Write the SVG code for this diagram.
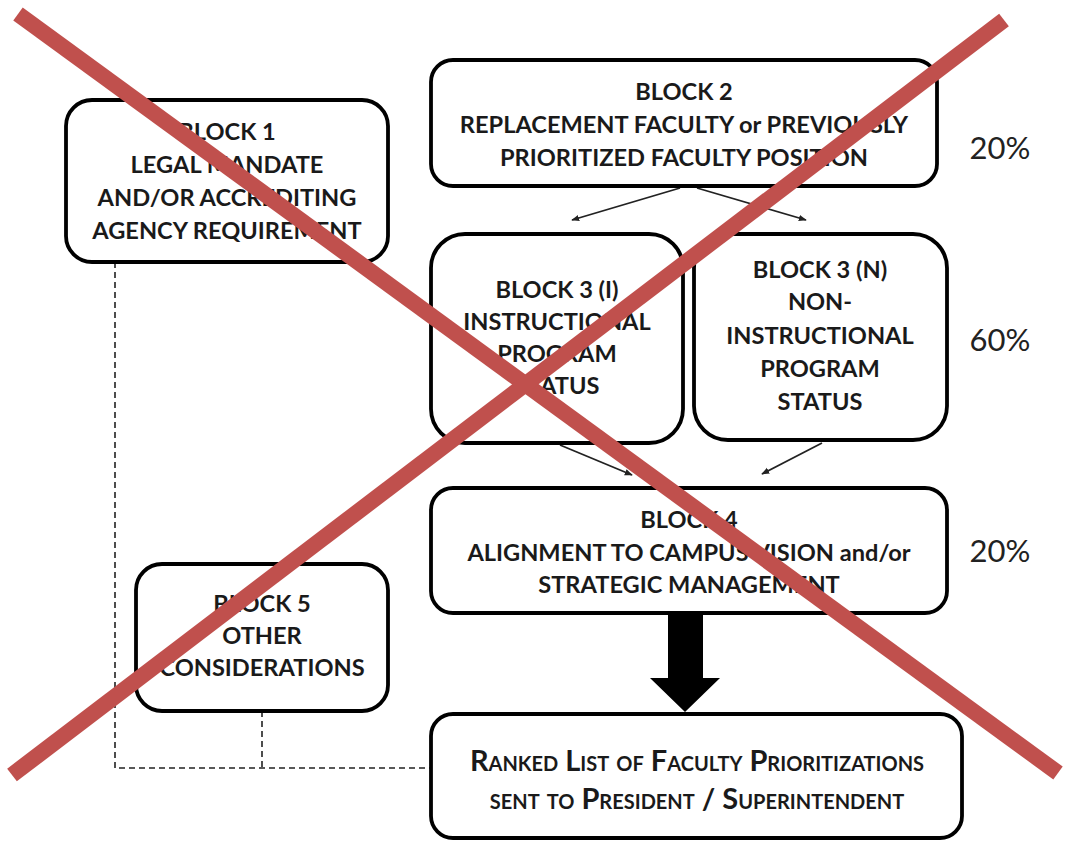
<svg xmlns="http://www.w3.org/2000/svg" width="1067" height="841" viewBox="0 0 1067 841">
<defs>
<style>
.box{fill:#fff;stroke:#000;stroke-width:3.8}
.t{font-family:Lato,"Open Sans","Liberation Sans",sans-serif;font-weight:700;font-size:23.6px;fill:#1a1a1a;text-anchor:middle}
.sc{font-variant:small-caps;font-size:29px}
.pct{font-family:Lato,"Open Sans","Liberation Sans",sans-serif;font-size:31px;fill:#222;text-anchor:middle}
.ar{stroke:#222;stroke-width:1.8;fill:none;marker-end:url(#ah)}
.dash{stroke:#222;stroke-width:1.6;fill:none;stroke-dasharray:6 4}
.x{stroke:#C0504D;stroke-width:16;stroke-linecap:butt}
</style>
<marker id="ah" viewBox="0 0 10 10" refX="9" refY="5" markerWidth="8" markerHeight="8" orient="auto" markerUnits="userSpaceOnUse">
<path d="M0,1 L10,5 L0,9 z" fill="#222"/>
</marker>
</defs>
<rect width="1067" height="841" fill="#fff"/>
<g id="connectors">
<path class="dash" d="M115,262 V768 H435"/>
<path class="dash" d="M262,711 V768"/>
<line class="ar" x1="680" y1="188" x2="572" y2="220"/>
<line class="ar" x1="697" y1="188" x2="806" y2="220"/>
<line class="ar" x1="560" y1="445" x2="632" y2="475"/>
<line class="ar" x1="822" y1="443" x2="762" y2="474"/>
<path d="M668,614 H703 V678 H720 L685,712 L650,678 H668 Z" fill="#000"/>
</g>
<g id="block1">
<rect class="box" x="66" y="100" width="322" height="162" rx="26"/>
<text class="t"><tspan x="227" y="140">BLOCK 1</tspan><tspan x="227" y="173">LEGAL MANDATE</tspan><tspan x="227" y="206">AND/OR ACCREDITING</tspan><tspan x="227" y="239">AGENCY REQUIREMENT</tspan></text>
</g>
<g id="block2">
<rect class="box" x="431" y="60" width="506" height="126" rx="22"/>
<text class="t"><tspan x="684" y="100">BLOCK 2</tspan><tspan x="684" y="133">REPLACEMENT FACULTY or PREVIOUSLY</tspan><tspan x="684" y="166">PRIORITIZED FACULTY POSITION</tspan></text>
</g>
<g id="block3i">
<rect class="box" x="431" y="234" width="252" height="209" rx="34"/>
<text class="t"><tspan x="557" y="298">BLOCK 3 (I)</tspan><tspan x="557" y="330">INSTRUCTIONAL</tspan><tspan x="557" y="362">PROGRAM</tspan><tspan x="557" y="394">STATUS</tspan></text>
</g>
<g id="block3n">
<rect class="box" x="694" y="234" width="253" height="206" rx="34"/>
<text class="t"><tspan x="820" y="278">BLOCK 3 (N)</tspan><tspan x="820" y="310">NON-</tspan><tspan x="820" y="344">INSTRUCTIONAL</tspan><tspan x="820" y="377">PROGRAM</tspan><tspan x="820" y="410">STATUS</tspan></text>
</g>
<g id="block4">
<rect class="box" x="431" y="488" width="516" height="125" rx="22"/>
<text class="t"><tspan x="689" y="528">BLOCK 4</tspan><tspan x="689" y="561">ALIGNMENT TO CAMPUS VISION and/or</tspan><tspan x="689" y="593">STRATEGIC MANAGEMENT</tspan></text>
</g>
<g id="block5">
<rect class="box" x="136" y="564" width="252" height="147" rx="26"/>
<text class="t"><tspan x="262" y="612">BLOCK 5</tspan><tspan x="262" y="644">OTHER</tspan><tspan x="262" y="676">CONSIDERATIONS</tspan></text>
</g>
<g id="ranked">
<rect class="box" x="431" y="714" width="531" height="124" rx="22"/>
<text class="t sc"><tspan x="697" y="771">Ranked List of Faculty Prioritizations</tspan><tspan x="697" y="809">sent to President / Superintendent</tspan></text>
</g>
<g id="percentages">
<text class="pct" x="1000" y="159">20%</text>
<text class="pct" x="1000" y="351">60%</text>
<text class="pct" x="1000" y="562">20%</text>
</g>
<g id="cross">
<line class="x" x1="18" y1="14" x2="1058" y2="773"/>
<line class="x" x1="1004" y1="20" x2="12" y2="775"/>
</g>
</svg>
